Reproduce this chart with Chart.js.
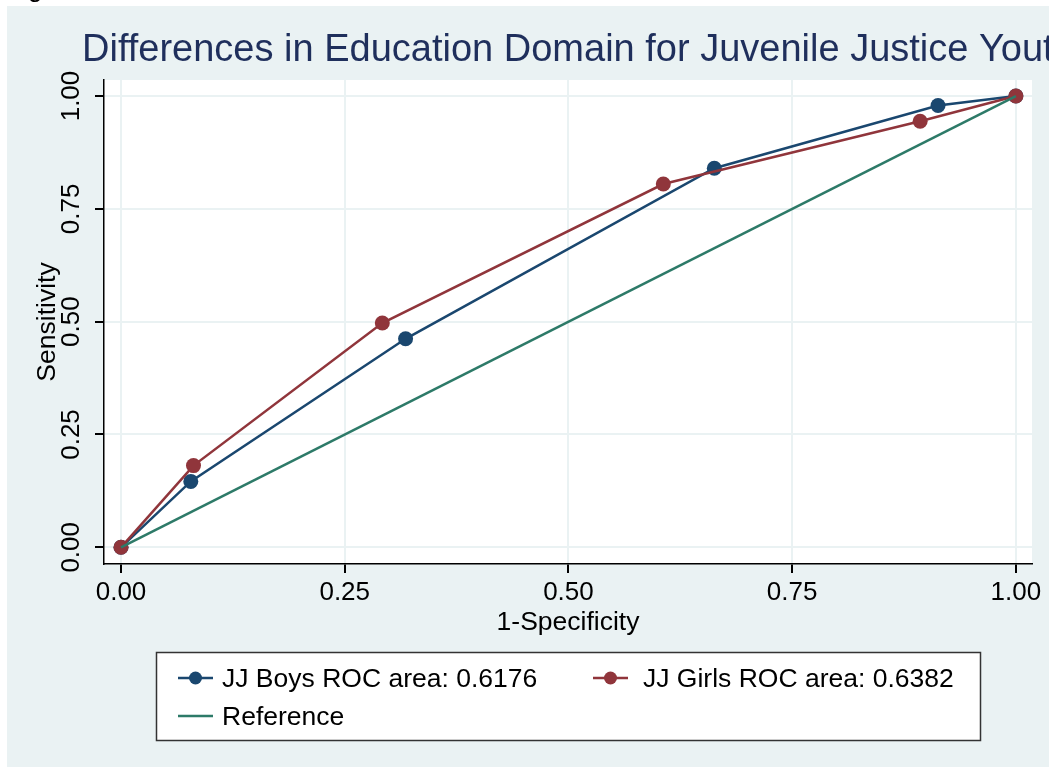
<!DOCTYPE html>
<html>
<head>
<meta charset="utf-8">
<script src="https://cdn.jsdelivr.net/npm/chart.js@4.4.1/dist/chart.umd.min.js"></script>
<style>
  html, body { margin: 0; padding: 0; background: #ffffff; overflow: hidden; }
  #wrap { position: relative; width: 1049px; height: 767px; }
</style>
</head>
<body>
<div id="wrap"><canvas id="roc" width="1049" height="767"></canvas></div>
<script>
// ROC curves: texts, ticks and series
const chartTitle = 'Differences in Education Domain for Juvenile Justice Youth';
const xAxisTitle = '1-Specificity';
const yAxisTitle = 'Sensitivity';
const tickValues = [0, 0.25, 0.5, 0.75, 1];
const tickLabels = ['0.00', '0.25', '0.50', '0.75', '1.00'];
const seriesLabels = ['JJ Boys ROC area: 0.6176', 'JJ Girls ROC area: 0.6382', 'Reference'];

const boysFPR  = [0, 0.078, 0.318, 0.663, 0.913, 1];
const boysTPR  = [0, 0.146, 0.462, 0.840, 0.979, 1];
const girlsFPR = [0, 0.081, 0.292, 0.606, 0.893, 1];
const girlsTPR = [0, 0.181, 0.497, 0.805, 0.944, 1];
const refFPR   = [0, 1];
const refTPR   = [0, 1];

const NAVY = '#1a476f';
const MAROON = '#90353b';
const TEAL = '#2d7a68';
const BG = '#eaf2f3';
const FONT = '"Liberation Sans", Arial, sans-serif';

const toPoints = (xs, ys) => xs.map((x, i) => ({ x: x, y: ys[i] }));

// backgrounds, hand-placed texts and the legend box
const framePlugin = {
  id: 'frame',
  beforeDraw(chart) {
    const ctx = chart.ctx;
    const a = chart.chartArea;
    ctx.save();
    ctx.fillStyle = '#ffffff';
    ctx.fillRect(0, 0, chart.width, chart.height);
    ctx.fillStyle = BG;
    ctx.fillRect(7, 6, chart.width - 7, chart.height - 6);
    ctx.fillStyle = '#ffffff';
    ctx.fillRect(a.left, a.top, a.right - a.left, a.bottom - a.top);
    ctx.restore();
  },
  afterDraw(chart) {
    const ctx = chart.ctx;
    const a = chart.chartArea;
    const xs = chart.scales.x;
    const ys = chart.scales.y;
    ctx.save();

    // clipped caption fragment above the frame
    ctx.fillStyle = '#000000';
    ctx.font = '26px ' + FONT;
    ctx.textAlign = 'left';
    ctx.textBaseline = 'alphabetic';
    ctx.fillText('g', 28, -3);

    // title
    ctx.fillStyle = '#1f2f5c';
    ctx.font = '38px ' + FONT;
    ctx.fillText(chartTitle, 82, 61);

    // x tick labels
    ctx.fillStyle = '#000000';
    ctx.font = '26px ' + FONT;
    ctx.textAlign = 'center';
    tickValues.forEach((v, i) => {
      ctx.fillText(tickLabels[i], xs.getPixelForValue(v), 600);
    });
    // y tick labels, rotated
    tickValues.forEach((v, i) => {
      ctx.save();
      ctx.translate(78.5, ys.getPixelForValue(v));
      ctx.rotate(-Math.PI / 2);
      ctx.fillText(tickLabels[i], 0, 0);
      ctx.restore();
    });

    // axis titles
    ctx.font = '26.5px ' + FONT;
    ctx.fillText(xAxisTitle, (a.left + a.right) / 2, 630);
    ctx.save();
    ctx.translate(55, (a.top + a.bottom) / 2);
    ctx.rotate(-Math.PI / 2);
    ctx.fillText(yAxisTitle, 0, 0);
    ctx.restore();

    // legend
    const box = { x: 156, y: 652, w: 824, h: 88 };
    ctx.fillStyle = '#ffffff';
    ctx.fillRect(box.x, box.y, box.w, box.h);
    ctx.strokeStyle = '#333333';
    ctx.lineWidth = 1.5;
    ctx.strokeRect(box.x + 0.5, box.y + 0.5, box.w, box.h);

    const entries = [
      { ds: 2, x: 178, tx: 222, y: 678 },
      { ds: 1, x: 593, tx: 643, y: 678 },
      { ds: 0, x: 178, tx: 222, y: 716 }
    ];
    entries.forEach(e => {
      const d = chart.data.datasets[e.ds];
      ctx.strokeStyle = d.borderColor;
      ctx.lineWidth = 2.5;
      ctx.beginPath();
      ctx.moveTo(e.x, e.y);
      ctx.lineTo(e.x + 35, e.y);
      ctx.stroke();
      if (d.pointRadius > 0) {
        ctx.fillStyle = d.borderColor;
        ctx.beginPath();
        ctx.arc(e.x + 17.5, e.y, 6.5, 0, Math.PI * 2);
        ctx.fill();
      }
      ctx.fillStyle = '#000000';
      ctx.font = '26.5px ' + FONT;
      ctx.textAlign = 'left';
      ctx.fillText(d.label, e.tx, e.y + 9);
    });
    ctx.restore();
  }
};

const axisCommon = {
  type: 'linear',
  afterBuildTicks: s => { s.ticks = tickValues.map(v => ({ value: v })); },
  ticks: { display: false },
  grid: { color: BG, lineWidth: 2, tickColor: '#000000', tickLength: 9, drawTicks: true },
  border: { display: true, color: '#000000', width: 1.5 }
};

new Chart(document.getElementById('roc'), {
  type: 'line',
  data: {
    datasets: [
      {
        label: seriesLabels[2],
        data: toPoints(refFPR, refTPR),
        borderColor: TEAL, backgroundColor: TEAL,
        borderWidth: 2.5, pointRadius: 0, order: 1
      },
      {
        label: seriesLabels[1],
        data: toPoints(girlsFPR, girlsTPR),
        borderColor: MAROON, backgroundColor: MAROON,
        borderWidth: 2.5, pointRadius: 7.5, pointBorderWidth: 0,
        pointBackgroundColor: MAROON, order: 2
      },
      {
        label: seriesLabels[0],
        data: toPoints(boysFPR, boysTPR),
        borderColor: NAVY, backgroundColor: NAVY,
        borderWidth: 2.5, pointRadius: 7.5, pointBorderWidth: 0,
        pointBackgroundColor: NAVY, order: 3
      }
    ]
  },
  options: {
    responsive: false,
    devicePixelRatio: 1,
    animation: false,
    layout: { padding: { left: 0, top: 80, right: 17, bottom: 0 } },
    plugins: { legend: { display: false }, title: { display: false }, tooltip: { enabled: false } },
    elements: { line: { tension: 0 } },
    scales: {
      x: Object.assign({}, axisCommon, {
        min: -0.019, max: 1.018,
        afterFit: s => { s.height = 203; }
      }),
      y: Object.assign({}, axisCommon, {
        min: -0.037, max: 1.0355,
        afterFit: s => { s.width = 104; }
      })
    }
  },
  plugins: [framePlugin]
});
</script>
</body>
</html>
